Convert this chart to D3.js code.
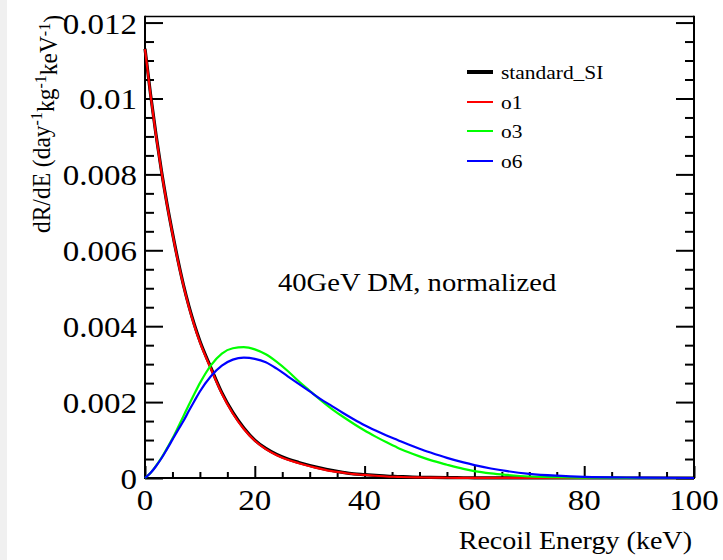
<!DOCTYPE html>
<html>
<head>
<meta charset="utf-8">
<script src="https://cdn.jsdelivr.net/npm/d3@7"></script>
<style>
body { margin: 0; background: #fff; }
text { font-family: "Liberation Serif", "Times New Roman", serif; fill: #000; }
</style>
</head>
<body>
<svg id="chart" width="723" height="560"></svg>
<script>
/// Data

var energies   = [0,1,2,3,4,5,6,7,8,9,10,12,14,16,18,20,22,24,26,28,30,32,34,36,38,40,42,44,46,48,50,52,55,58,60,63,66,70,75,80,90,100];
var standardSI = [0.01131,0.01012,0.00905,0.00809,0.00723,0.00646,0.00574,0.00509,0.00453,0.00404,0.00361,0.00291,0.00225,0.00173,0.00132,0.00100,0.00078,0.00062,0.00050,0.00041,0.00033,0.00026,0.00020,0.00015,0.00011,0.00009,0.00007,0.00005,0.00004,0.00003,0.00002,0.000015,0.00001,0.000007,0.000005,0.000004,0.000003,0.000002,0.000001,0,0,0];
var o1         = [0.01130,0.01010,0.00903,0.00807,0.00721,0.00644,0.00571,0.00507,0.00450,0.00401,0.00358,0.00288,0.00222,0.00170,0.00129,0.00098,0.00076,0.00060,0.00048,0.00039,0.00031,0.00024,0.00018,0.00014,0.00010,0.00008,0.00006,0.00004,0.00003,0.00002,0.000015,0.00001,0.000007,0.000005,0.000004,0.000003,0.000002,0.000001,0,0,0,0];
var o3         = [0,0.00013,0.00032,0.00053,0.00078,0.00104,0.00133,0.00163,0.00193,0.00222,0.00250,0.00297,0.00328,0.00342,0.00345,0.00339,0.00326,0.00306,0.00282,0.00255,0.00230,0.00205,0.00182,0.00162,0.00143,0.00125,0.00109,0.00094,0.00080,0.00068,0.00057,0.00047,0.00035,0.00024,0.00018,0.00012,0.00008,0.00004,0.00002,0.00001,0,0];
var o6         = [0,0.00013,0.00031,0.00052,0.00076,0.00101,0.00126,0.00150,0.00177,0.00203,0.00228,0.00268,0.00296,0.00312,0.00317,0.00314,0.00305,0.00288,0.00268,0.00248,0.00228,0.00208,0.00190,0.00172,0.00155,0.00139,0.00125,0.00112,0.00100,0.00088,0.00077,0.00067,0.00053,0.00041,0.00034,0.00025,0.00018,0.00011,0.00006,0.00003,0.00001,0];

var seriesNames  = ["standard_SI", "o1", "o3", "o6"];
var seriesValues = [standardSI, o1, o3, o6];
var seriesColors = ["#000000", "#ff0000", "#00ff00", "#0000ff"];

var xTicks      = [0, 20, 40, 60, 80, 100];
var xTickLabels = ["0", "20", "40", "60", "80", "100"];
var yTicks      = [0, 0.002, 0.004, 0.006, 0.008, 0.01, 0.012];
var yTickLabels = ["0", "0.002", "0.004", "0.006", "0.008", "0.01", "0.012"];


/// Layout

var plotLeft = 145, plotRight = 694, plotTop = 16.5, plotBottom = 478;
var sx = 1.1; // the picture is a bit stretched sideways

var svg = d3.select("#chart");

svg.append("rect").attr("x", 0).attr("y", 0).attr("width", 7).attr("height", 560).style("fill", "#f0f0f0");

var x = d3.scaleLinear().domain([0, 100]).range([plotLeft, plotRight]);
var y = d3.scaleLinear().domain([0, 0.01216]).range([plotBottom, plotTop]);

function minorTicks(ticks, n){
	var out = [];
	for (var i = 0; i < ticks.length - 1; i++){
		var step = (ticks[i+1] - ticks[i]) / n;
		for (var j = 1; j < n; j++) out.push(ticks[i] + j*step);
	}
	return out;
}

function cleanAxis(g, width){
	g.select(".domain").remove();
	g.selectAll("line").attr("stroke", "#000").attr("stroke-width", width);
	g.selectAll("text").remove();
}

// left axis
svg.append("g").attr("transform", "translate(" + plotLeft + ",0)")
	.call(d3.axisLeft(y).tickValues(yTicks).tickSize(-18)).call(cleanAxis, 2);
svg.append("g").attr("transform", "translate(" + plotLeft + ",0)")
	.call(d3.axisLeft(y).tickValues(minorTicks(yTicks, 4)).tickSize(-9)).call(cleanAxis, 2);

// right axis (ticks only)
svg.append("g").attr("transform", "translate(" + plotRight + ",0)")
	.call(d3.axisRight(y).tickValues(yTicks).tickSize(-18)).call(cleanAxis, 2);
svg.append("g").attr("transform", "translate(" + plotRight + ",0)")
	.call(d3.axisRight(y).tickValues(minorTicks(yTicks, 4)).tickSize(-9)).call(cleanAxis, 2);

// bottom axis
svg.append("g").attr("transform", "translate(0," + plotBottom + ")")
	.call(d3.axisBottom(x).tickValues(xTicks).tickSize(-12)).call(cleanAxis, 2);
svg.append("g").attr("transform", "translate(0," + plotBottom + ")")
	.call(d3.axisBottom(x).tickValues(minorTicks(xTicks, 4)).tickSize(-6)).call(cleanAxis, 2);

// frame
svg.append("line").attr("x1", plotLeft).attr("x2", plotRight).attr("y1", plotTop).attr("y2", plotTop)
	.attr("stroke", "#000").attr("stroke-width", 1.5);
svg.append("line").attr("x1", plotLeft).attr("x2", plotLeft).attr("y1", plotTop - 0.75).attr("y2", plotBottom + 1)
	.attr("stroke", "#000").attr("stroke-width", 2);
svg.append("line").attr("x1", plotRight).attr("x2", plotRight).attr("y1", plotTop - 0.75).attr("y2", plotBottom + 1)
	.attr("stroke", "#000").attr("stroke-width", 2);
svg.append("line").attr("x1", plotLeft - 1).attr("x2", plotRight + 1).attr("y1", plotBottom).attr("y2", plotBottom)
	.attr("stroke", "#000").attr("stroke-width", 2);

// tick labels
svg.selectAll(".ylab").data(yTicks).enter().append("text")
	.attr("class", "ylab")
	.attr("transform", function(d){ return "translate(137," + (y(d) + 11) + ") scale(" + sx + ",1)"; })
	.attr("text-anchor", "end")
	.style("font-size", "30px")
	.text(function(d, i){ return yTickLabels[i]; });

svg.selectAll(".xlab").data(xTicks).enter().append("text")
	.attr("class", "xlab")
	.attr("transform", function(d){ return "translate(" + x(d) + ",510) scale(" + sx + ",1)"; })
	.attr("text-anchor", "middle")
	.style("font-size", "30px")
	.text(function(d, i){ return xTickLabels[i]; });


/// Curves

var line = d3.line()
	.x(function(d){ return x(d[0]); })
	.y(function(d){ return y(d[1]); })
	.curve(d3.curveMonotoneX);

seriesValues.forEach(function(vals, i){
	var pts = energies.map(function(e, k){ return [e, vals[k]]; });
	svg.append("path")
		.attr("d", line(pts))
		.attr("fill", "none")
		.attr("stroke", seriesColors[i])
		.attr("stroke-width", i == 0 ? 3.2 : 2.2)
		.attr("stroke-linejoin", "round");
});


/// Titles

svg.append("text")
	.attr("transform", "translate(692,549) scale(1.08,1)")
	.attr("text-anchor", "end")
	.style("font-size", "26px")
	.text("Recoil Energy (keV)");

var ytitle = svg.append("text")
	.attr("transform", "translate(50,15) rotate(-90) scale(1,1.1)")
	.attr("text-anchor", "end")
	.style("font-size", "23.5px");
ytitle.append("tspan").text("dR/dE (day");
ytitle.append("tspan").attr("dy", "-0.45em").style("font-size", "16px").text("-1");
ytitle.append("tspan").attr("dy", "0.45em").text("kg");
ytitle.append("tspan").attr("dy", "-0.45em").style("font-size", "16px").text("-1");
ytitle.append("tspan").attr("dy", "0.45em").text("keV");
ytitle.append("tspan").attr("dy", "-0.45em").style("font-size", "16px").text("-1");
ytitle.append("tspan").attr("dy", "0.45em").text(")");

svg.append("text")
	.attr("transform", "translate(278,291) scale(" + sx + ",1)")
	.style("font-size", "26px")
	.text("40GeV DM, normalized");


/// Legend

var legendY = [72, 102, 131, 161];
var legend = svg.selectAll(".leg").data(seriesNames).enter().append("g")
	.attr("class", "leg")
	.attr("transform", function(d, i){ return "translate(467," + legendY[i] + ")"; });
legend.append("line")
	.attr("x1", 0).attr("x2", 26).attr("y1", 0).attr("y2", 0)
	.attr("stroke", function(d, i){ return seriesColors[i]; })
	.attr("stroke-width", function(d, i){ return i == 0 ? 4 : 2; });
legend.append("text")
	.attr("transform", "translate(34,6.5) scale(" + sx + ",1)")
	.style("font-size", "19.5px")
	.text(function(d){ return d; });
</script>
</body>
</html>
